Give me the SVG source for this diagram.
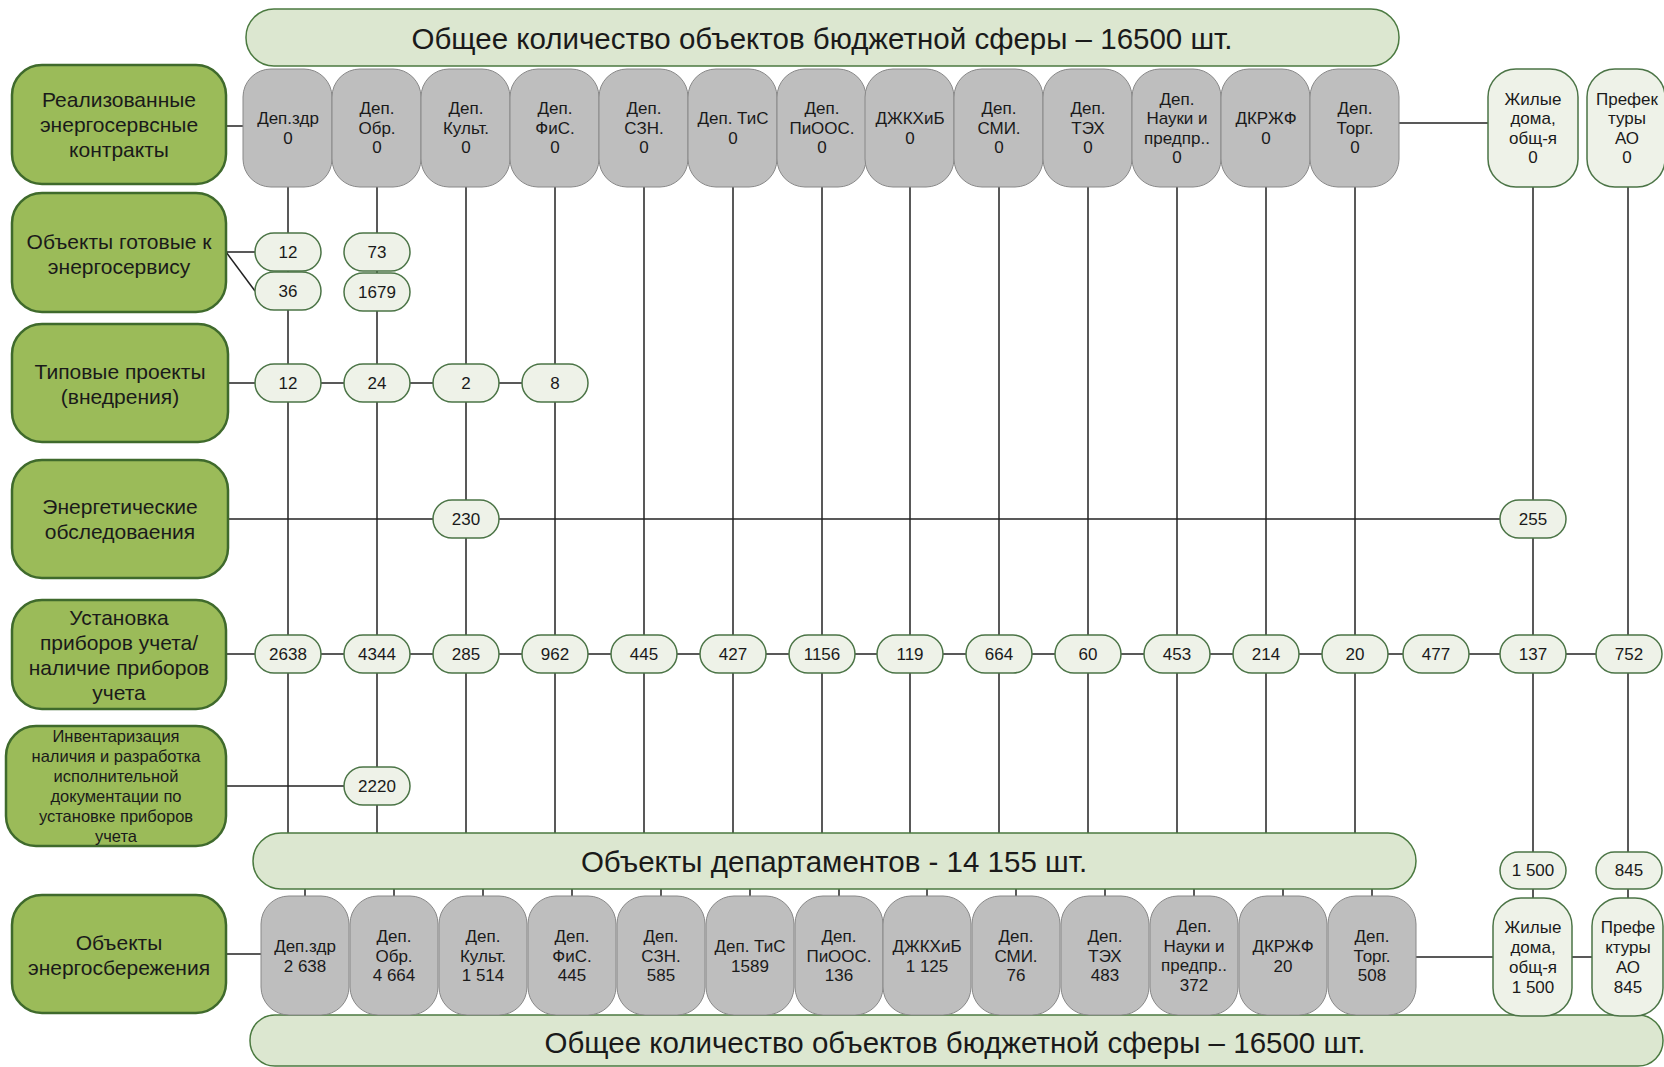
<svg xmlns="http://www.w3.org/2000/svg" width="1664" height="1067" viewBox="0 0 1664 1067">
<style>
text{font-family:"Liberation Sans",Arial,sans-serif;fill:#1a1a1a;text-anchor:middle;dominant-baseline:central}
.lbl{fill:#9bbb59;stroke:#3f6a2c;stroke-width:2.5}
.lt{font-size:21px}
.lts{font-size:16.5px}
.dept{fill:#bebebe;stroke:#888888;stroke-width:1}
.dt{font-size:17px}
.side{fill:#eef2e8;stroke:#4b7446;stroke-width:1.5}
.pill{fill:#eef2e8;stroke:#4b7446;stroke-width:1.5}
.pt{font-size:17px}
.bar{fill:#dce7d0;stroke:#4b7a40;stroke-width:1.5}
.bt{font-size:29.5px}
.conn line{stroke:#222;stroke-width:1.5}
</style>
<rect width="1664" height="1067" fill="#ffffff"/>

<g id="connectors" class="conn">
  <line x1="288" y1="187" x2="288" y2="833"/>
  <line x1="377" y1="187" x2="377" y2="833"/>
  <line x1="466" y1="187" x2="466" y2="833"/>
  <line x1="555" y1="187" x2="555" y2="833"/>
  <line x1="644" y1="187" x2="644" y2="833"/>
  <line x1="733" y1="187" x2="733" y2="833"/>
  <line x1="822" y1="187" x2="822" y2="833"/>
  <line x1="910" y1="187" x2="910" y2="833"/>
  <line x1="999" y1="187" x2="999" y2="833"/>
  <line x1="1088" y1="187" x2="1088" y2="833"/>
  <line x1="1177" y1="187" x2="1177" y2="833"/>
  <line x1="1266" y1="187" x2="1266" y2="833"/>
  <line x1="1355" y1="187" x2="1355" y2="833"/>
  <line x1="1533" y1="187" x2="1533" y2="852"/>
  <line x1="1628" y1="187" x2="1628" y2="852"/>
  <line x1="1533" y1="889" x2="1533" y2="898"/>
  <line x1="1628" y1="889" x2="1628" y2="898"/>
  <line x1="305" y1="889" x2="305" y2="896"/>
  <line x1="394" y1="889" x2="394" y2="896"/>
  <line x1="483" y1="889" x2="483" y2="896"/>
  <line x1="572" y1="889" x2="572" y2="896"/>
  <line x1="661" y1="889" x2="661" y2="896"/>
  <line x1="750" y1="889" x2="750" y2="896"/>
  <line x1="839" y1="889" x2="839" y2="896"/>
  <line x1="927" y1="889" x2="927" y2="896"/>
  <line x1="1016" y1="889" x2="1016" y2="896"/>
  <line x1="1105" y1="889" x2="1105" y2="896"/>
  <line x1="1194" y1="889" x2="1194" y2="896"/>
  <line x1="1283" y1="889" x2="1283" y2="896"/>
  <line x1="1372" y1="889" x2="1372" y2="896"/>
  <line x1="226" y1="126" x2="243" y2="126"/>
  <line x1="1399" y1="123" x2="1488" y2="123"/>
  <line x1="226" y1="252" x2="255" y2="252"/>
  <line x1="226" y1="252" x2="255" y2="291"/>
  <line x1="228" y1="383" x2="522" y2="383"/>
  <line x1="228" y1="519" x2="1500" y2="519"/>
  <line x1="226" y1="654" x2="1596" y2="654"/>
  <line x1="226" y1="786" x2="344" y2="786"/>
  <line x1="226" y1="954" x2="261" y2="954"/>
  <line x1="1416" y1="957" x2="1493" y2="957"/>
  <line x1="1572" y1="957" x2="1592" y2="957"/>
</g>

<g id="bar-top">
  <rect class="bar" x="246" y="9" width="1153" height="57" rx="28"/>
  <text class="bt" x="822" y="38">Общее количество объектов бюджетной сферы – 16500 шт.</text>
</g>

<g id="lbl-contracts">
  <rect class="lbl" x="12" y="65" width="214" height="119" rx="30"/>
  <text class="lt" x="119" y="99">Реализованные</text>
  <text class="lt" x="119" y="124">энергосервсные</text>
  <text class="lt" x="119" y="149">контракты</text>
</g>
<g id="lbl-ready">
  <rect class="lbl" x="12" y="193" width="214" height="119" rx="30"/>
  <text class="lt" x="119" y="241">Объекты готовые к</text>
  <text class="lt" x="119" y="266">энергосервису</text>
</g>
<g id="lbl-typical">
  <rect class="lbl" x="12" y="324" width="216" height="118" rx="30"/>
  <text class="lt" x="120" y="371">Типовые проекты</text>
  <text class="lt" x="120" y="396">(внедрения)</text>
</g>
<g id="lbl-audit">
  <rect class="lbl" x="12" y="460" width="216" height="118" rx="30"/>
  <text class="lt" x="120" y="506">Энергетические</text>
  <text class="lt" x="120" y="531">обследоваения</text>
</g>
<g id="lbl-meters">
  <rect class="lbl" x="12" y="600" width="214" height="109" rx="30"/>
  <text class="lt" x="119" y="617">Установка</text>
  <text class="lt" x="119" y="642">приборов учета/</text>
  <text class="lt" x="119" y="667">наличие приборов</text>
  <text class="lt" x="119" y="692">учета</text>
</g>
<g id="lbl-inventory">
  <rect class="lbl" x="6" y="726" width="220" height="120" rx="30"/>
  <text class="lts" x="116" y="736">Инвентаризация</text>
  <text class="lts" x="116" y="756">наличия и разработка</text>
  <text class="lts" x="116" y="776">исполнительной</text>
  <text class="lts" x="116" y="796">документации по</text>
  <text class="lts" x="116" y="816">установке приборов</text>
  <text class="lts" x="116" y="836">учета</text>
</g>
<g id="lbl-saving">
  <rect class="lbl" x="12" y="895" width="214" height="118" rx="30"/>
  <text class="lt" x="119" y="942">Объекты</text>
  <text class="lt" x="119" y="967">энергосбережения</text>
</g>

<g id="top-zdr"><rect class="dept" x="243" y="69" width="89" height="118" rx="28"/><text class="dt" x="288" y="118">Деп.здр</text><text class="dt" x="288" y="138">0</text></g>
<g id="top-obr"><rect class="dept" x="332" y="69" width="89" height="118" rx="28"/><text class="dt" x="377" y="108.5">Деп.</text><text class="dt" x="377" y="128">Обр.</text><text class="dt" x="377" y="147.5">0</text></g>
<g id="top-kult"><rect class="dept" x="421" y="69" width="89" height="118" rx="28"/><text class="dt" x="466" y="108.5">Деп.</text><text class="dt" x="466" y="128">Культ.</text><text class="dt" x="466" y="147.5">0</text></g>
<g id="top-fis"><rect class="dept" x="510" y="69" width="89" height="118" rx="28"/><text class="dt" x="555" y="108.5">Деп.</text><text class="dt" x="555" y="128">ФиС.</text><text class="dt" x="555" y="147.5">0</text></g>
<g id="top-szn"><rect class="dept" x="599" y="69" width="89" height="118" rx="28"/><text class="dt" x="644" y="108.5">Деп.</text><text class="dt" x="644" y="128">СЗН.</text><text class="dt" x="644" y="147.5">0</text></g>
<g id="top-tis"><rect class="dept" x="688" y="69" width="89" height="118" rx="28"/><text class="dt" x="733" y="118">Деп. ТиС</text><text class="dt" x="733" y="138">0</text></g>
<g id="top-pioos"><rect class="dept" x="777" y="69" width="89" height="118" rx="28"/><text class="dt" x="822" y="108.5">Деп.</text><text class="dt" x="822" y="128">ПиООС.</text><text class="dt" x="822" y="147.5">0</text></g>
<g id="top-dzhkh"><rect class="dept" x="865" y="69" width="89" height="118" rx="28"/><text class="dt" x="910" y="118">ДЖКХиБ</text><text class="dt" x="910" y="138">0</text></g>
<g id="top-smi"><rect class="dept" x="954" y="69" width="89" height="118" rx="28"/><text class="dt" x="999" y="108.5">Деп.</text><text class="dt" x="999" y="128">СМИ.</text><text class="dt" x="999" y="147.5">0</text></g>
<g id="top-teh"><rect class="dept" x="1043" y="69" width="89" height="118" rx="28"/><text class="dt" x="1088" y="108.5">Деп.</text><text class="dt" x="1088" y="128">ТЭХ</text><text class="dt" x="1088" y="147.5">0</text></g>
<g id="top-nauki"><rect class="dept" x="1132" y="69" width="89" height="118" rx="28"/><text class="dt" x="1177" y="99">Деп.</text><text class="dt" x="1177" y="118.5">Науки и</text><text class="dt" x="1177" y="138">предпр..</text><text class="dt" x="1177" y="157.5">0</text></g>
<g id="top-dkrzhf"><rect class="dept" x="1221" y="69" width="89" height="118" rx="28"/><text class="dt" x="1266" y="118">ДКРЖФ</text><text class="dt" x="1266" y="138">0</text></g>
<g id="top-torg"><rect class="dept" x="1310" y="69" width="89" height="118" rx="28"/><text class="dt" x="1355" y="108.5">Деп.</text><text class="dt" x="1355" y="128">Торг.</text><text class="dt" x="1355" y="147.5">0</text></g>
<g id="top-zhil"><rect class="side" x="1488" y="69" width="90" height="118" rx="28"/><text class="dt" x="1533" y="99">Жилые</text><text class="dt" x="1533" y="118.5">дома,</text><text class="dt" x="1533" y="138">общ-я</text><text class="dt" x="1533" y="157.5">0</text></g>
<g id="top-pref"><rect class="side" x="1587" y="69" width="78" height="118" rx="28"/><text class="dt" x="1627" y="99">Префек</text><text class="dt" x="1627" y="118.5">туры</text><text class="dt" x="1627" y="138">АО</text><text class="dt" x="1627" y="157.5">0</text></g>

<g id="p-ready-zdr-12"><rect class="pill" x="255" y="233" width="66" height="38" rx="19"/><text class="pt" x="288" y="252">12</text></g>
<g id="p-ready-zdr-36"><rect class="pill" x="255" y="272" width="66" height="38" rx="19"/><text class="pt" x="288" y="291">36</text></g>
<g id="p-ready-obr-73"><rect class="pill" x="344" y="233" width="66" height="38" rx="19"/><text class="pt" x="377" y="252">73</text></g>
<g id="p-ready-obr-1679"><rect class="pill" x="344" y="273" width="66" height="38" rx="19"/><text class="pt" x="377" y="292">1679</text></g>

<g id="p-typ-12"><rect class="pill" x="255" y="364" width="66" height="38" rx="19"/><text class="pt" x="288" y="383">12</text></g>
<g id="p-typ-24"><rect class="pill" x="344" y="364" width="66" height="38" rx="19"/><text class="pt" x="377" y="383">24</text></g>
<g id="p-typ-2"><rect class="pill" x="433" y="364" width="66" height="38" rx="19"/><text class="pt" x="466" y="383">2</text></g>
<g id="p-typ-8"><rect class="pill" x="522" y="364" width="66" height="38" rx="19"/><text class="pt" x="555" y="383">8</text></g>

<g id="p-aud-230"><rect class="pill" x="433" y="500" width="66" height="38" rx="19"/><text class="pt" x="466" y="519">230</text></g>
<g id="p-aud-255"><rect class="pill" x="1500" y="500" width="66" height="38" rx="19"/><text class="pt" x="1533" y="519">255</text></g>

<g id="p-m-2638"><rect class="pill" x="255" y="635" width="66" height="38" rx="19"/><text class="pt" x="288" y="654">2638</text></g>
<g id="p-m-4344"><rect class="pill" x="344" y="635" width="66" height="38" rx="19"/><text class="pt" x="377" y="654">4344</text></g>
<g id="p-m-285"><rect class="pill" x="433" y="635" width="66" height="38" rx="19"/><text class="pt" x="466" y="654">285</text></g>
<g id="p-m-962"><rect class="pill" x="522" y="635" width="66" height="38" rx="19"/><text class="pt" x="555" y="654">962</text></g>
<g id="p-m-445"><rect class="pill" x="611" y="635" width="66" height="38" rx="19"/><text class="pt" x="644" y="654">445</text></g>
<g id="p-m-427"><rect class="pill" x="700" y="635" width="66" height="38" rx="19"/><text class="pt" x="733" y="654">427</text></g>
<g id="p-m-1156"><rect class="pill" x="789" y="635" width="66" height="38" rx="19"/><text class="pt" x="822" y="654">1156</text></g>
<g id="p-m-119"><rect class="pill" x="877" y="635" width="66" height="38" rx="19"/><text class="pt" x="910" y="654">119</text></g>
<g id="p-m-664"><rect class="pill" x="966" y="635" width="66" height="38" rx="19"/><text class="pt" x="999" y="654">664</text></g>
<g id="p-m-60"><rect class="pill" x="1055" y="635" width="66" height="38" rx="19"/><text class="pt" x="1088" y="654">60</text></g>
<g id="p-m-453"><rect class="pill" x="1144" y="635" width="66" height="38" rx="19"/><text class="pt" x="1177" y="654">453</text></g>
<g id="p-m-214"><rect class="pill" x="1233" y="635" width="66" height="38" rx="19"/><text class="pt" x="1266" y="654">214</text></g>
<g id="p-m-20"><rect class="pill" x="1322" y="635" width="66" height="38" rx="19"/><text class="pt" x="1355" y="654">20</text></g>
<g id="p-m-477"><rect class="pill" x="1403" y="635" width="66" height="38" rx="19"/><text class="pt" x="1436" y="654">477</text></g>
<g id="p-m-137"><rect class="pill" x="1500" y="635" width="66" height="38" rx="19"/><text class="pt" x="1533" y="654">137</text></g>
<g id="p-m-752"><rect class="pill" x="1596" y="635" width="66" height="38" rx="19"/><text class="pt" x="1629" y="654">752</text></g>

<g id="p-inv-2220"><rect class="pill" x="344" y="767" width="66" height="38" rx="19"/><text class="pt" x="377" y="786">2220</text></g>

<g id="bar-depts">
  <rect class="bar" x="253" y="833" width="1163" height="56" rx="28"/>
  <text class="bt" x="834" y="861">Объекты департаментов - 14 155 шт.</text>
</g>

<g id="p-zhil-1500"><rect class="pill" x="1500" y="852" width="66" height="37" rx="18.5"/><text class="pt" x="1533" y="870.5">1 500</text></g>
<g id="p-pref-845"><rect class="pill" x="1596" y="852" width="66" height="37" rx="18.5"/><text class="pt" x="1629" y="870.5">845</text></g>

<g id="bar-bottom">
  <rect class="bar" x="250" y="1015" width="1413" height="51" rx="25"/>
</g>

<g id="bot-zdr"><rect class="dept" x="261" y="896" width="88" height="119" rx="28"/><text class="dt" x="305" y="946">Деп.здр</text><text class="dt" x="305" y="966">2 638</text></g>
<g id="bot-obr"><rect class="dept" x="350" y="896" width="88" height="119" rx="28"/><text class="dt" x="394" y="936.5">Деп.</text><text class="dt" x="394" y="956">Обр.</text><text class="dt" x="394" y="975.5">4 664</text></g>
<g id="bot-kult"><rect class="dept" x="439" y="896" width="88" height="119" rx="28"/><text class="dt" x="483" y="936.5">Деп.</text><text class="dt" x="483" y="956">Культ.</text><text class="dt" x="483" y="975.5">1 514</text></g>
<g id="bot-fis"><rect class="dept" x="528" y="896" width="88" height="119" rx="28"/><text class="dt" x="572" y="936.5">Деп.</text><text class="dt" x="572" y="956">ФиС.</text><text class="dt" x="572" y="975.5">445</text></g>
<g id="bot-szn"><rect class="dept" x="617" y="896" width="88" height="119" rx="28"/><text class="dt" x="661" y="936.5">Деп.</text><text class="dt" x="661" y="956">СЗН.</text><text class="dt" x="661" y="975.5">585</text></g>
<g id="bot-tis"><rect class="dept" x="706" y="896" width="88" height="119" rx="28"/><text class="dt" x="750" y="946">Деп. ТиС</text><text class="dt" x="750" y="966">1589</text></g>
<g id="bot-pioos"><rect class="dept" x="795" y="896" width="88" height="119" rx="28"/><text class="dt" x="839" y="936.5">Деп.</text><text class="dt" x="839" y="956">ПиООС.</text><text class="dt" x="839" y="975.5">136</text></g>
<g id="bot-dzhkh"><rect class="dept" x="883" y="896" width="88" height="119" rx="28"/><text class="dt" x="927" y="946">ДЖКХиБ</text><text class="dt" x="927" y="966">1 125</text></g>
<g id="bot-smi"><rect class="dept" x="972" y="896" width="88" height="119" rx="28"/><text class="dt" x="1016" y="936.5">Деп.</text><text class="dt" x="1016" y="956">СМИ.</text><text class="dt" x="1016" y="975.5">76</text></g>
<g id="bot-teh"><rect class="dept" x="1061" y="896" width="88" height="119" rx="28"/><text class="dt" x="1105" y="936.5">Деп.</text><text class="dt" x="1105" y="956">ТЭХ</text><text class="dt" x="1105" y="975.5">483</text></g>
<g id="bot-nauki"><rect class="dept" x="1150" y="896" width="88" height="119" rx="28"/><text class="dt" x="1194" y="926.5">Деп.</text><text class="dt" x="1194" y="946">Науки и</text><text class="dt" x="1194" y="965.5">предпр..</text><text class="dt" x="1194" y="985">372</text></g>
<g id="bot-dkrzhf"><rect class="dept" x="1239" y="896" width="88" height="119" rx="28"/><text class="dt" x="1283" y="946">ДКРЖФ</text><text class="dt" x="1283" y="966">20</text></g>
<g id="bot-torg"><rect class="dept" x="1328" y="896" width="88" height="119" rx="28"/><text class="dt" x="1372" y="936.5">Деп.</text><text class="dt" x="1372" y="956">Торг.</text><text class="dt" x="1372" y="975.5">508</text></g>
<g id="bot-zhil"><rect class="side" x="1493" y="898" width="79" height="118" rx="28"/><text class="dt" x="1533" y="927">Жилые</text><text class="dt" x="1533" y="947">дома,</text><text class="dt" x="1533" y="967">общ-я</text><text class="dt" x="1533" y="987">1 500</text></g>
<g id="bot-pref"><rect class="side" x="1592" y="898" width="71" height="118" rx="28"/><text class="dt" x="1628" y="927">Префе</text><text class="dt" x="1628" y="947">ктуры</text><text class="dt" x="1628" y="967">АО</text><text class="dt" x="1628" y="987">845</text></g>

<g id="bar-bottom-text">
  <text class="bt" x="955" y="1042">Общее количество объектов бюджетной сферы – 16500 шт.</text>
</g>
</svg>
